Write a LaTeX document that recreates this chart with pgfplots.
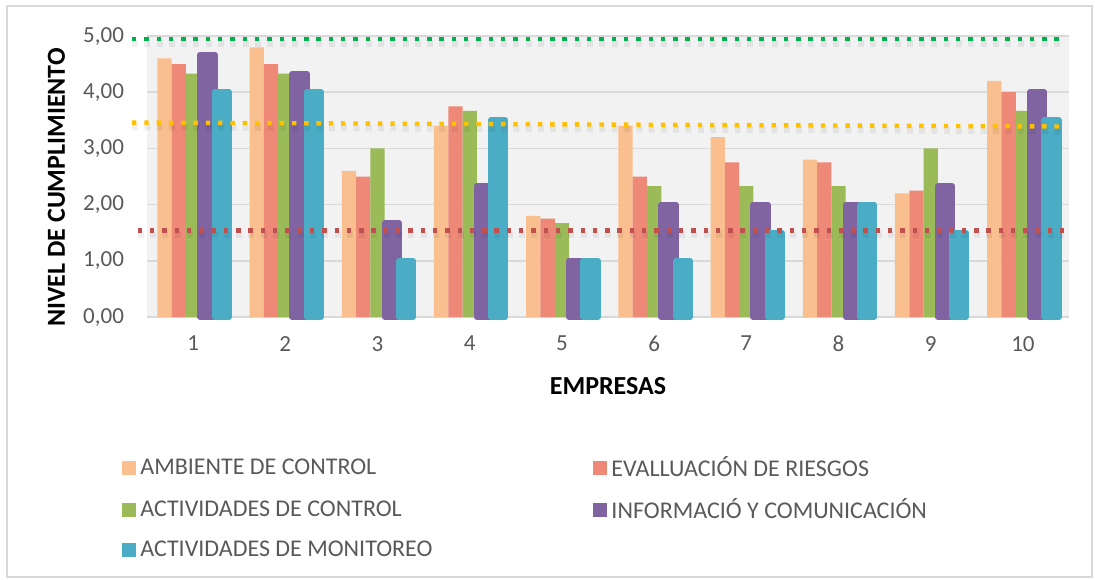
\documentclass[border=0pt]{standalone}
\usepackage{pgfplots}
\pgfplotsset{compat=1.18}
\usepackage{fontspec}
\setmainfont{Carlito}
\definecolor{cAmb}{HTML}{F9BF8F}
\definecolor{cEva}{HTML}{EE8877}
\definecolor{cAct}{HTML}{9BBB59}
\definecolor{cInf}{HTML}{8064A2}
\definecolor{cMon}{HTML}{4BACC6}
\definecolor{plotbg}{HTML}{F2F2F2}
\definecolor{gridc}{HTML}{D9D9D9}
\definecolor{txtc}{HTML}{595959}
\definecolor{lGreen}{HTML}{00B050}
\definecolor{lYel}{HTML}{FFC000}
\definecolor{lRed}{HTML}{C0504D}
\begin{document}
\begin{tikzpicture}
\useasboundingbox (-73.5pt,-131pt) rectangle (474pt,158.5pt);
\draw[color=gridc, line width=0.8pt] (-70pt,-130pt) rectangle (472.5pt,155.5pt);
\begin{axis}[
  at={(0,0)}, anchor=south west,
  scale only axis, width=461pt, height=140.5pt,
  xmin=0.5, xmax=10.5, ymin=0, ymax=5,
  clip=false,
  ybar=0pt, bar width=7.15pt,
  axis background/.style={fill=plotbg},
  axis x line*=bottom, axis y line*=left,
  x axis line style={draw=gridc, line width=1pt, -},
  y axis line style={draw=none},
  ymajorgrids, grid style={draw=gridc, line width=0.8pt},
  major tick length=0pt,
  xtick={1,...,10}, xticklabels={1,2,3,4,5,6,7,8,9,10},
  ytick={0,1,2,3,4,5},
  tick label style={font=\fontsize{11.5}{13}\selectfont, text=txtc},
  yticklabel style={xshift=-8pt},
  xticklabel style={yshift=-6pt},
  /pgf/number format/.cd, fixed, fixed zerofill, precision=2, use comma, assume math mode=true,
  /pgfplots/.cd,
  xlabel={EMPRESAS},
  label style={font=\fontsize{13}{15}\selectfont\bfseries, text=black},
  xlabel style={at={(axis description cs:0.5,-0.2456)}, anchor=center},
  legend style={at={(axis description cs:-0.0336,-0.466)}, anchor=north west,
    draw=none, fill=none, font=\fontsize{12}{14}\selectfont, text=txtc,
    /tikz/every even column/.append style={column sep=78.5pt},
    /tikz/row sep=5.5pt},
  legend columns=2, legend cell align=left,
  legend image code/.code={\path[#1,draw=none] (0pt,-3.5pt) rectangle (7pt,3.5pt);},
]
\addplot[fill=cAmb, draw=none] coordinates {(1,4.6) (2,4.8) (3,2.6) (4,3.4) (5,1.8) (6,3.4) (7,3.2) (8,2.8) (9,2.2) (10,4.2)};
\addplot[fill=cEva, draw=none] coordinates {(1,4.5) (2,4.5) (3,2.5) (4,3.75) (5,1.75) (6,2.5) (7,2.75) (8,2.75) (9,2.25) (10,4.0)};
\addplot[fill=cAct, draw=none] coordinates {(1,4.33) (2,4.33) (3,3.0) (4,3.67) (5,1.67) (6,2.33) (7,2.33) (8,2.33) (9,3.0) (10,3.67)};
\addplot[fill=cInf, draw=cInf, line width=3pt, line join=round] coordinates {(1,4.67) (2,4.33) (3,1.67) (4,2.33) (5,1.0) (6,2.0) (7,2.0) (8,2.0) (9,2.33) (10,4.0)};
\addplot[fill=cMon, draw=cMon, line width=3pt, line join=round] coordinates {(1,4.0) (2,4.0) (3,1.0) (4,3.5) (5,1.0) (6,1.0) (7,1.5) (8,2.0) (9,1.5) (10,3.5)};
\legend{AMBIENTE DE CONTROL, EVALLUACIÓN DE RIESGOS, ACTIVIDADES DE CONTROL, INFORMACIÓ Y COMUNICACIÓN, ACTIVIDADES DE MONITOREO}
% reference lines (soft shadows then dots)
\addplot[sharp plot, black, opacity=0.06, line width=3.4pt, dash pattern=on 3pt off 3.15pt, yshift=-2.2pt, forget plot] coordinates {(0.337,4.95) (10.42,4.95)};
\addplot[sharp plot, black, opacity=0.06, line width=3.4pt, dash pattern=on 3pt off 3.15pt, yshift=-2.2pt, forget plot] coordinates {(0.337,3.46) (10.45,3.39)};
\addplot[sharp plot, black, opacity=0.06, line width=3.4pt, dash pattern=on 3pt off 3.15pt, yshift=-2.2pt, forget plot] coordinates {(0.40,1.54) (10.45,1.54)};
\addplot[sharp plot, lGreen, line width=2.2pt, dash pattern=on 2.2pt off 3.95pt, forget plot] coordinates {(0.337,4.95) (10.42,4.95)};
\addplot[sharp plot, lYel, line width=2.2pt, dash pattern=on 2.2pt off 3.95pt, forget plot] coordinates {(0.337,3.46) (10.45,3.39)};
\addplot[sharp plot, lRed, line width=2.2pt, dash pattern=on 2.2pt off 3.95pt, forget plot] coordinates {(0.40,1.54) (10.45,1.54)};
\end{axis}
\node[rotate=90, anchor=center, font=\fontsize{13}{15}\selectfont\bfseries] at (-45.25pt,64.75pt) {NIVEL DE CUMPLIMIENTO};
\end{tikzpicture}
\end{document}
